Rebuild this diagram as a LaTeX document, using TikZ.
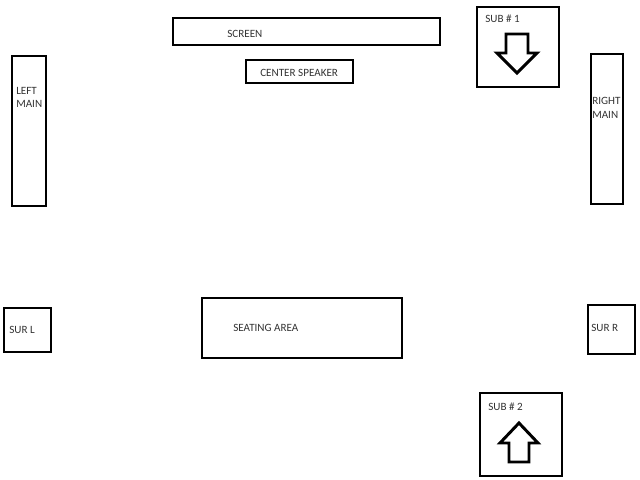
\documentclass[tikz,border=0pt]{standalone}
\usepackage{fontspec}
\setmainfont{Carlito}
\tikzset{
    box/.style={draw=black, line width=2.1pt, fill=white},
    arrowshape/.style={draw=black, line width=2.1pt, fill=white, miter limit=10},
    lbl/.style={anchor=west, inner sep=0pt, text=black!80, font=\fontsize{7.9}{9}\selectfont}
}
\begin{document}
\begin{tikzpicture}[x=0.025cm, y=-0.025cm]
            \useasboundingbox (0,0) rectangle (640,480);

            % Screen and center speaker
            \draw[box] (173,18) rectangle (440,45);
            \node[lbl] (screen) at (227,34) {SCREEN};
            \draw[box] (246,60) rectangle (353,83);
            \node[lbl] (center) at (260,73) {CENTER SPEAKER};

            % Main speakers
            \draw[box] (12,56) rectangle (46,206);
            \node[lbl] (leftA) at (16,91) {LEFT};
            \node[lbl] (leftB) at (16,104) {MAIN};
            \draw[box] (591,54) rectangle (623,204);
            \node[lbl] (rightA) at (592,101) {RIGHT};
            \node[lbl] (rightB) at (592,115) {MAIN};

            % Surrounds
            \draw[box] (4,308) rectangle (51,352);
            \node[lbl] (surL) at (9,330) {SUR L};
            \draw[box] (588,305) rectangle (635,354);
            \node[lbl] (surR) at (591,328) {SUR R};

            % Seating
            \draw[box] (202,298) rectangle (402,358);
            \node[lbl] (seating) at (233,328) {SEATING AREA};

            % Subwoofer 1
            \draw[box] (477,7) rectangle (559,87);
            \node[lbl] (subA) at (485,19) {SUB \# 1};
            \draw[arrowshape] (506,34) -- (528,34) -- (528,53) -- (537,53) -- (517,73) -- (497,53) -- (506,53) -- cycle;

            % Subwoofer 2
            \draw[box] (480,393) rectangle (562,476);
            \node[lbl] (subB) at (488,407) {SUB \# 2};
            \draw[arrowshape] (509,462) -- (529,462) -- (529,443) -- (538,443) -- (519,423) -- (500,443) -- (509,443) -- cycle;

        \end{tikzpicture}
\end{document}
